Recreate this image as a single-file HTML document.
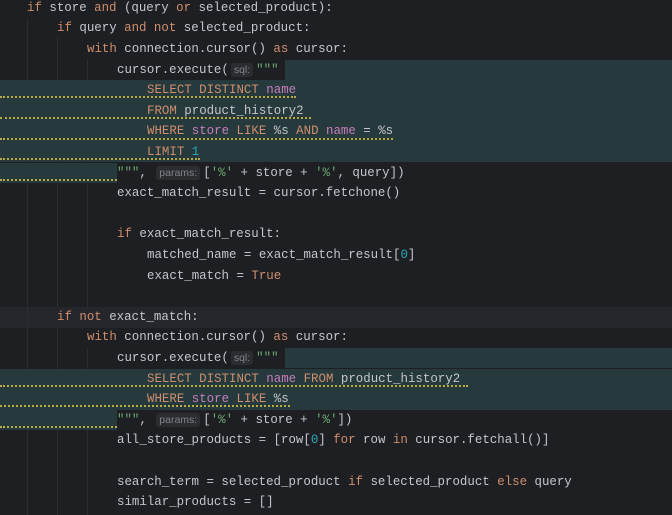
<!DOCTYPE html>
<html><head><meta charset="utf-8"><style>
html,body{margin:0;padding:0;}
body{width:672px;height:515px;background:#1e1f22;position:relative;overflow:hidden;font-family:"Liberation Mono",monospace;font-size:12.43px;color:#c4c6cc;}
.l{position:absolute;white-space:pre;height:20.6px;line-height:20.6px;}
.k{color:#cf8e6d}.s{color:#6aab73}.n{color:#2aacb8}.p{color:#c77dbb}
.h{font-size:10.5px;color:#7f8288;background:#2b2d30;border-radius:3px;padding:1px 3px;margin:0 3px 0 2px;font-family:"Liberation Sans",sans-serif;}
.bg{position:absolute;background:#263a3d;}
.u{position:absolute;height:0;border-bottom:2px dotted #b8ab45;left:0;}
.g{position:absolute;width:1px;background:#2a2c30;}
</style></head><body>
<div style="position:absolute;left:0;top:307px;width:672px;height:20.6px;background:#25272c"></div>
<div class="g" style="left:27px;top:18px;height:497px"></div>
<div class="g" style="left:57px;top:38px;height:270px"></div>
<div class="g" style="left:57px;top:328px;height:187px"></div>
<div class="g" style="left:87px;top:59px;height:249px"></div>
<div class="g" style="left:87px;top:348px;height:167px"></div>
<div class="bg" style="left:285px;top:59.5px;width:387px;height:20.6px"></div>
<div class="bg" style="left:0;top:80.1px;width:672px;height:82.4px"></div>
<div class="bg" style="left:0;top:162.5px;width:117px;height:20.6px"></div>
<div class="bg" style="left:285px;top:347.9px;width:387px;height:20.6px"></div>
<div class="bg" style="left:0;top:368.5px;width:672px;height:41.2px"></div>
<div class="bg" style="left:0;top:409.7px;width:117px;height:20.6px"></div>
<div class="u" style="top:96px;width:296px"></div>
<div class="u" style="top:117px;width:311px"></div>
<div class="u" style="top:138px;width:393px"></div>
<div class="u" style="top:158px;width:200px"></div>
<div class="u" style="top:179px;width:117px"></div>
<div class="u" style="top:385px;width:468px"></div>
<div class="u" style="top:405px;width:290px"></div>
<div class="u" style="top:426px;width:117px"></div>

<div class="l" style="left:27px;top:-2.3px"><span class="k">if</span> store <span class="k">and</span> (query <span class="k">or</span> selected_product):</div>
<div class="l" style="left:57px;top:18.3px"><span class="k">if</span> query <span class="k">and not</span> selected_product:</div>
<div class="l" style="left:87px;top:38.9px"><span class="k">with</span> connection.cursor() <span class="k">as</span> cursor:</div>
<div class="l" style="left:117px;top:59.5px">cursor.execute(<span class="h">sql:</span><span class="s">"""</span></div>
<div class="l" style="left:147px;top:80.1px"><span class="k">SELECT DISTINCT</span> <span class="p">name</span></div>
<div class="l" style="left:147px;top:100.7px"><span class="k">FROM</span> product_history2</div>
<div class="l" style="left:147px;top:121.3px"><span class="k">WHERE</span> <span class="p">store</span> <span class="k">LIKE</span> %s <span class="k">AND</span> <span class="p">name</span> = %s</div>
<div class="l" style="left:147px;top:141.9px"><span class="k">LIMIT</span> <span class="n">1</span></div>
<div class="l" style="left:117px;top:162.5px"><span class="s">"""</span>, <span class="h">params:</span>[<span class="s">'%'</span> + store + <span class="s">'%'</span>, query])</div>
<div class="l" style="left:117px;top:183.1px">exact_match_result = cursor.fetchone()</div>
<div class="l" style="left:117px;top:224.3px"><span class="k">if</span> exact_match_result:</div>
<div class="l" style="left:147px;top:244.9px">matched_name = exact_match_result[<span class="n">0</span>]</div>
<div class="l" style="left:147px;top:265.5px">exact_match = <span class="k">True</span></div>
<div class="l" style="left:57px;top:306.7px"><span class="k">if not</span> exact_match:</div>
<div class="l" style="left:87px;top:327.3px"><span class="k">with</span> connection.cursor() <span class="k">as</span> cursor:</div>
<div class="l" style="left:117px;top:347.9px">cursor.execute(<span class="h">sql:</span><span class="s">"""</span></div>
<div class="l" style="left:147px;top:368.5px"><span class="k">SELECT DISTINCT</span> <span class="p">name</span> <span class="k">FROM</span> product_history2</div>
<div class="l" style="left:147px;top:389.1px"><span class="k">WHERE</span> <span class="p">store</span> <span class="k">LIKE</span> %s</div>
<div class="l" style="left:117px;top:409.7px"><span class="s">"""</span>, <span class="h">params:</span>[<span class="s">'%'</span> + store + <span class="s">'%'</span>])</div>
<div class="l" style="left:117px;top:430.3px">all_store_products = [row[<span class="n">0</span>] <span class="k">for</span> row <span class="k">in</span> cursor.fetchall()]</div>
<div class="l" style="left:117px;top:471.5px">search_term = selected_product <span class="k">if</span> selected_product <span class="k">else</span> query</div>
<div class="l" style="left:117px;top:492.1px">similar_products = []</div>
</body></html>
